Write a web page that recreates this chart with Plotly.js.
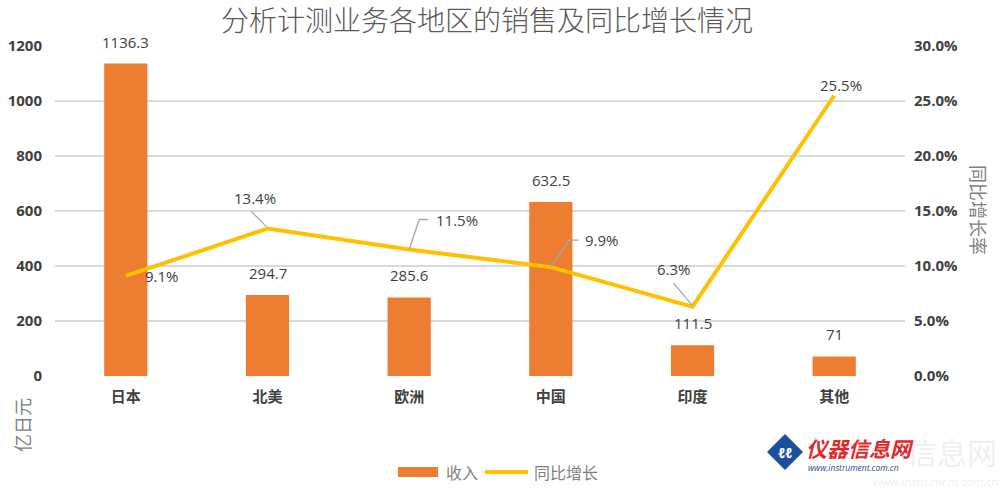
<!DOCTYPE html>
<html>
<head>
<meta charset="utf-8">
<script src="https://cdn.plot.ly/plotly-3.0.1.min.js"></script>
<style>html,body{margin:0;padding:0;background:#fff;}#chart{width:1005px;height:501px;}</style>
</head>
<body>
<div id="chart"></div>
<script>
// ---- data ----
const categories = ["日本", "北美", "欧洲", "中国", "印度", "其他"];
const revenue = [1136.3, 294.7, 285.6, 632.5, 111.5, 71];
const revenueLabels = ["1136.3", "294.7", "285.6", "632.5", "111.5", "71"];
const growth = [0.091, 0.134, 0.115, 0.099, 0.063, 0.255];
const growthLabels = ["9.1%", "13.4%", "11.5%", "9.9%", "6.3%", "25.5%"];
const leftTicks = [0, 200, 400, 600, 800, 1000, 1200];
const rightTicks = [0, 0.05, 0.10, 0.15, 0.20, 0.25, 0.30];

// ---- layout helpers (plot area in pixels) ----
const L = 55, R = 905, T = 46, B = 376;
const W = 1005, H = 501;
const px = x => (x - L) / (R - L);
const py = y => (B - y) / (B - T);

const numFont = "'Open Sans', 'Noto Sans', sans-serif";
const cjkFont = "'Noto Sans CJK SC', 'Noto Sans', sans-serif";

const traces = [
  {
    type: "bar", x: categories, y: revenue, name: "收入",
    marker: {color: "#ED7D31"}, hoverinfo: "skip", showlegend: false
  },
  {
    type: "scatter", mode: "lines", x: categories, y: growth, yaxis: "y2", name: "同比增长",
    line: {color: "#FFC000", width: 4}, hoverinfo: "skip", showlegend: false
  }
];

const annotations = [];
const shapes = [];
// bar value labels
categories.forEach((c, i) => {
  annotations.push({
    x: c, y: revenue[i], xref: "x", yref: "y", text: revenueLabels[i],
    showarrow: false, xanchor: "center", yanchor: "middle", yshift: 22,
    font: {family: numFont, size: 15, color: "#404040"}
  });
});
// growth labels: label offset [xshift, yshift] and leader path (pixel offsets from point, y up)
const gStyle = [
  {dx: 36, dy: 0, leader: null},
  {dx: -13, dy: 31, leader: "M -16 17 L -1 2"},
  {dx: 48, dy: 29.5, leader: "M 0 0 L 10 30 L 19 30"},
  {dx: 51, dy: 27, leader: "M 0 0 L 18 27 L 28 27"},
  {dx: -19, dy: 37.5, leader: "M -19 23.5 L 0 1"},
  {dx: 7, dy: 11, leader: null}
];
categories.forEach((c, i) => {
  const s = gStyle[i];
  annotations.push({
    x: c, y: growth[i], xref: "x", yref: "y2", text: growthLabels[i],
    showarrow: false, xanchor: "center", yanchor: "middle", xshift: s.dx, yshift: s.dy,
    font: {family: numFont, size: 15, color: "#404040"}
  });
  if (s.leader) {
    shapes.push({
      type: "path", xref: "x", yref: "y2", xsizemode: "pixel", ysizemode: "pixel",
      xanchor: c, yanchor: growth[i], path: s.leader,
      line: {color: "#A6A6A6", width: 1.3}
    });
  }
});
function paperText(x, y, text, font, extra) {
  annotations.push(Object.assign({
    xref: "paper", yref: "paper", x: px(x), y: py(y), text: text,
    showarrow: false, xanchor: "center", yanchor: "middle", font: font
  }, extra || {}));
}
// axis titles
paperText(22, 425, "亿日元", {family: cjkFont, size: 18, color: "#7F7F7F"}, {textangle: -90});
paperText(979, 210, "同比增长率", {family: cjkFont, size: 18, color: "#7F7F7F"}, {textangle: 90});
// custom legend
paperText(444, 472, "收入", {family: cjkFont, size: 16, color: "#7F7F7F"}, {xanchor: "left"});
paperText(532, 472, "同比增长", {family: cjkFont, size: 16, color: "#7F7F7F"}, {xanchor: "left"});
// watermark logo
paperText(952, 451, "信息网", {family: cjkFont, size: 30, color: "rgba(200,200,200,0.3)"});
paperText(935, 481, "www.instrument.com.cn", {family: numFont, size: 11, color: "rgba(200,200,200,0.3)"});
paperText(804, 448, "<b><i>仪器信息网</i></b>", {family: cjkFont, size: 21, color: "#E02A2A"}, {xanchor: "left"});
paperText(806, 467, "<i>www.instrument.com.cn</i>", {family: numFont, size: 8.5, color: "#2B4A8C"}, {xanchor: "left"});
paperText(785, 452, "<i><b>ℓℓ</b></i>", {family: numFont, size: 14, color: "#FFFFFF"});

shapes.push(
  // legend swatches
  {type: "rect", xref: "paper", yref: "paper", x0: px(398), x1: px(438), y0: py(477), y1: py(467),
    fillcolor: "#ED7D31", line: {width: 0}},
  {type: "line", xref: "paper", yref: "paper", x0: px(485), x1: px(528), y0: py(472), y1: py(472),
    line: {color: "#FFC000", width: 4}},
  // logo diamond
  {type: "path", xref: "paper", yref: "paper",
    path: `M ${px(767)} ${py(452)} L ${px(785)} ${py(434)} L ${px(803)} ${py(452)} L ${px(785)} ${py(470)} Z`,
    fillcolor: "#1F4E9E", line: {width: 0}}
);

const layout = {
  width: W, height: H,
  margin: {l: L, r: W - R, t: T, b: H - B, pad: 0},
  paper_bgcolor: "#FFFFFF", plot_bgcolor: "#FFFFFF",
  title: {
    text: "分析计测业务各地区的销售及同比增长情况",
    x: 487 / W, xref: "container", xanchor: "center",
    y: 1 - 21 / H, yref: "container", yanchor: "middle",
    font: {family: cjkFont, size: 28, color: "#595959", weight: 300}
  },
  bargap: 0.695,
  showlegend: false,
  xaxis: {
    type: "category", showgrid: false, zeroline: false,
    showline: false, ticks: "", ticklabelstandoff: 10,
    tickfont: {family: cjkFont, size: 15, color: "#404040", weight: "bold"}
  },
  yaxis: {
    range: [0, 1200], tickvals: leftTicks, ticktext: leftTicks.map(String),
    showgrid: true, gridcolor: "#D9D9D9", gridwidth: 1.5, zeroline: false,
    showline: false, ticks: "", ticklabelstandoff: 12,
    tickfont: {family: numFont, size: 15, color: "#404040", weight: "bold"}
  },
  yaxis2: {
    overlaying: "y", side: "right", range: [0, 0.30], tickvals: rightTicks,
    ticktext: rightTicks.map(v => (v * 100).toFixed(1) + "%"),
    showgrid: false, zeroline: false, showline: false, ticks: "", ticklabelstandoff: 8,
    tickfont: {family: numFont, size: 15, color: "#404040", weight: "bold"}
  },
  annotations: annotations,
  shapes: shapes
};

Plotly.newPlot("chart", traces, layout, {displayModeBar: false, staticPlot: true});
</script>
</body>
</html>
